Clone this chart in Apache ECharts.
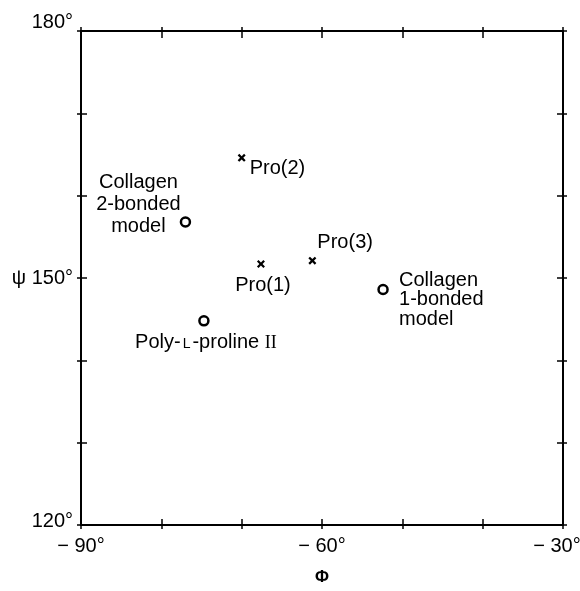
<!DOCTYPE html>
<html>
<head>
<meta charset="utf-8">
<script src="https://cdn.jsdelivr.net/npm/echarts@6/dist/echarts.min.js"></script>
<style>
html,body{margin:0;padding:0;background:#fff;}
#chart{width:580px;height:591px;}
</style>
</head>
<body>
<div id="chart"></div>
<script>
// ---- data ----
const pointNames = ['Pro(1)', 'Pro(2)', 'Pro(3)', 'Collagen 2-bonded model', 'Poly-L-proline II', 'Collagen 1-bonded model'];
const phiValues = [-67.6, -70.0, -61.2, -77.0, -74.7, -52.4];
const psiValues = [151.7, 164.6, 152.1, 156.8, 144.8, 148.6];
const pointKinds = ['cross', 'cross', 'cross', 'circle', 'circle', 'circle'];
const xTickLabels = { '-90': '− 90°', '-60': '− 60°', '-30': '{e|− 30°}' };
const yTickLabels = { '180': '{t|180°}', '150': 'ψ 150°', '120': '{b|120°}' };

const FONT = '"Liberation Sans", Arial, Helvetica, sans-serif';
const crossPath = 'path://M0,2L2,0L5,3L8,0L10,2L7,5L10,8L8,10L5,7L2,10L0,8L3,5Z';

// label placement (style only)
const labelStyles = {
  'Pro(1)': { text: 'Pro(1)', align: 'center', offset: [2, 21] },
  'Pro(2)': { text: 'Pro(2)', align: 'left', offset: [8, 11] },
  'Pro(3)': { text: 'Pro(3)', align: 'left', offset: [5, -18] },
  'Collagen 2-bonded model': { text: 'Collagen\n2-bonded\nmodel', align: 'center', offset: [-47, -18], lineHeight: 22 },
  'Poly-L-proline II': { text: '{a|Poly-}{s|L}{a|-proline }{r|II}', align: 'center', offset: [2, 22] },
  'Collagen 1-bonded model': { text: 'Collagen\n1-bonded\nmodel', align: 'left', offset: [16, 10], lineHeight: 19.5 }
};

const data = pointNames.map((n, i) => {
  const ls = labelStyles[n];
  const isCross = pointKinds[i] === 'cross';
  return {
    name: n,
    value: [phiValues[i], psiValues[i]],
    symbol: isCross ? crossPath : 'circle',
    symbolSize: isCross ? 8 : 9,
    itemStyle: isCross ? { color: '#000', borderWidth: 0, opacity: 1 } : { color: '#fff', borderColor: '#000', borderWidth: 2.5, opacity: 1 },
    label: {
      show: true,
      position: 'inside',
      formatter: ls.text,
      align: ls.align,
      verticalAlign: 'middle',
      offset: ls.offset,
      lineHeight: ls.lineHeight || 22,
      color: '#000',
      opacity: 1,
      textBorderWidth: 0,
      textBorderColor: 'transparent',
      fontSize: 20,
      fontFamily: FONT,
      rich: {
        a: { fontSize: 20, fontFamily: FONT, color: '#000', textBorderWidth: 0 },
        s: { fontSize: 14, fontFamily: FONT, color: '#000', padding: [3, 2, 0, 2], textBorderWidth: 0 },
        r: { fontSize: 18, fontFamily: '"Liberation Serif", serif', color: '#000', textBorderWidth: 0 }
      }
    }
  };
});

const baseX = { type: 'value', min: -90, max: -30, interval: 10, splitLine: { show: false } };
const baseY = { type: 'value', min: 120, max: 180, interval: 10, splitLine: { show: false } };
const lineStyle = { color: '#000', width: 2 };
const tickStyle = { color: '#000', width: 1.5 };

const option = {
  animation: false,
  backgroundColor: '#fff',
  grid: { left: 81, right: 17, top: 31, bottom: 66, containLabel: false, outerBoundsMode: 'none' },
  xAxis: [
    Object.assign({}, baseX, {
      position: 'bottom',
      name: 'Φ', nameLocation: 'middle', nameGap: 44,
      nameTextStyle: { fontSize: 17, fontWeight: 'bold', color: '#000', fontFamily: FONT },
      axisLine: { show: true, lineStyle: lineStyle },
      axisTick: { show: true, inside: false, length: 4, lineStyle: tickStyle },
      axisLabel: {
        show: true, margin: 11, fontSize: 20, color: '#000', fontFamily: FONT,
        formatter: v => xTickLabels[String(v)] || '',
        rich: { e: { fontSize: 20, color: '#000', fontFamily: FONT, padding: [0, 12, 0, 0] } }
      }
    }),
    Object.assign({}, baseX, {
      position: 'bottom',
      axisLine: { show: false },
      axisTick: { show: true, inside: true, length: 6, lineStyle: tickStyle },
      axisLabel: { show: false }
    }),
    Object.assign({}, baseX, {
      position: 'top',
      axisLine: { show: true, lineStyle: lineStyle },
      axisTick: { show: true, inside: false, length: 4, lineStyle: tickStyle },
      axisLabel: { show: false }
    }),
    Object.assign({}, baseX, {
      position: 'top',
      axisLine: { show: false },
      axisTick: { show: true, inside: true, length: 7, lineStyle: tickStyle },
      axisLabel: { show: false }
    })
  ],
  yAxis: [
    Object.assign({}, baseY, {
      position: 'left',
      axisLine: { show: true, lineStyle: lineStyle },
      axisTick: { show: true, inside: false, length: 4, lineStyle: tickStyle },
      axisLabel: {
        show: true, margin: 8, fontSize: 20, color: '#000', fontFamily: FONT,
        formatter: v => yTickLabels[String(v)] || '',
        rich: {
          t: { fontSize: 20, color: '#000', fontFamily: FONT, padding: [0, 0, 18, 0] },
          b: { fontSize: 20, color: '#000', fontFamily: FONT, padding: [0, 0, 8, 0] }
        }
      }
    }),
    Object.assign({}, baseY, {
      position: 'left',
      axisLine: { show: false },
      axisTick: { show: true, inside: true, length: 6, lineStyle: tickStyle },
      axisLabel: { show: false }
    }),
    Object.assign({}, baseY, {
      position: 'right',
      axisLine: { show: true, lineStyle: lineStyle },
      axisTick: { show: true, inside: false, length: 4, lineStyle: tickStyle },
      axisLabel: { show: false }
    }),
    Object.assign({}, baseY, {
      position: 'right',
      axisLine: { show: false },
      axisTick: { show: true, inside: true, length: 6, lineStyle: tickStyle },
      axisLabel: { show: false }
    })
  ],
  series: [{
    type: 'scatter',
    xAxisIndex: 0,
    yAxisIndex: 0,
    itemStyle: { opacity: 1 },
    data: data,
    emphasis: { disabled: true }
  }]
};

const chart = echarts.init(document.getElementById('chart'), null, { renderer: 'canvas' });
chart.setOption(option);
</script>
</body>
</html>
